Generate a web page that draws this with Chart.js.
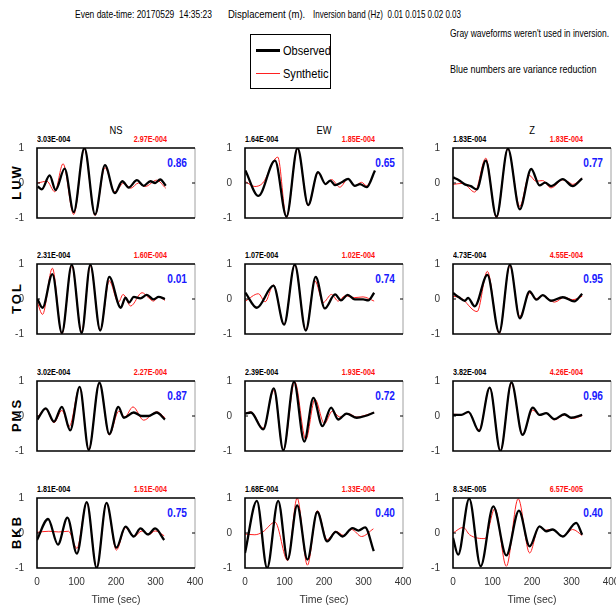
<!DOCTYPE html>
<html>
<head>
<meta charset="utf-8">
<script src="https://cdn.jsdelivr.net/npm/chart.js@4/dist/chart.umd.min.js"></script>
<style>
  body { margin: 0; width: 616px; height: 612px; overflow: hidden; background: #fff; position: relative;
         font-family: 'Liberation Sans', Arial, sans-serif; }
  .t { position: absolute; white-space: pre; line-height: 1; transform-origin: 0 50%; }
  canvas { position: absolute; }
</style>
</head>
<body>
<div class="t fit" data-w="137" style="left:75px;top:9px;font-size:11px;">Even date-time: 20170529  14:35:23</div>
<div class="t fit" data-w="77" style="left:228px;top:9px;font-size:11px;">Displacement (m).</div>
<div class="t fit" data-w="148" style="left:313px;top:9px;font-size:11px;">Inversion band (Hz)  0.01 0.015 0.02 0.03</div>
<div class="t fit" data-w="159" style="left:450px;top:29px;font-size:10px;">Gray waveforms weren't used in inversion.</div>
<div class="t fit" data-w="146" style="left:450px;top:65px;font-size:10px;">Blue numbers are variance reduction</div>
<div style="position:absolute;left:250px;top:34px;width:79px;height:53px;border:1px solid #000;"></div>
<div style="position:absolute;left:256px;top:49px;width:24px;height:3px;background:#000;"></div>
<div class="t" style="left:283px;top:44px;font-size:13px;transform:scaleX(0.85);">Observed</div>
<div style="position:absolute;left:256px;top:73px;width:24px;height:1px;background:#ff2020;"></div>
<div class="t" style="left:283px;top:67px;font-size:13px;transform:scaleX(0.85);">Synthetic</div>
<script>
// station / component layout
const stations = ['LUW', 'TOL', 'PMS', 'BKB'];
const components = ['NS', 'EW', 'Z'];

// amplitude labels (observed, synthetic) and variance reduction
const obsAmp = [
  ['3.03E-004', '1.64E-004', '1.83E-004'],
  ['2.31E-004', '1.07E-004', '4.73E-004'],
  ['3.02E-004', '2.39E-004', '3.82E-004'],
  ['1.81E-004', '1.68E-004', '8.34E-005']
];
const synAmp = [
  ['2.97E-004', '1.85E-004', '1.83E-004'],
  ['1.60E-004', '1.02E-004', '4.55E-004'],
  ['2.27E-004', '1.93E-004', '4.26E-004'],
  ['1.51E-004', '1.33E-004', '6.57E-005']
];
const varRed = [
  ['0.86', '0.65', '0.77'],
  ['0.01', '0.74', '0.95'],
  ['0.87', '0.72', '0.96'],
  ['0.75', '0.40', '0.40']
];

const xTicks = [0, 100, 200, 300, 400];
const yTicks = [-1, 0, 1];

// normalized waveforms, time (s) and amplitude
const luwNsObsT = [2, 12, 32, 47, 70, 93, 120, 147, 172, 197, 216, 232, 253, 270, 287, 299, 312, 326];
const luwNsObsY = [-0.1, -0.18, 0.22, -0.2, 0.41, -0.83, 1.0, -0.9, 0.51, -0.29, 0.05, -0.13, 0.08, -0.08, 0.05, 0.0, 0.1, -0.08];
const luwNsSynT = [2, 25, 45, 66, 93, 120, 147, 172, 197, 220, 237, 257, 274, 303, 326];
const luwNsSynY = [0.0, 0.05, -0.25, 0.55, -0.9, 0.98, -0.93, 0.44, -0.25, 0.0, -0.15, 0.0, -0.1, 0.08, -0.15];

const luwEwObsT = [1, 34, 76, 105, 133, 160, 185, 204, 216, 228, 245, 261, 278, 291, 308, 329];
const luwEwObsY = [0.36, -0.37, 0.64, -0.96, 1.0, -0.63, 0.31, -0.03, 0.07, -0.06, 0.02, 0.12, -0.08, -0.03, -0.12, 0.36];
const luwEwSynT = [1, 25, 45, 83, 105, 133, 160, 185, 205, 219, 240, 261, 278, 295, 308, 321];
const luwEwSynY = [0.04, -0.1, 0.0, 0.74, -0.99, 0.98, -0.65, 0.29, -0.03, 0.1, -0.12, 0.12, -0.08, 0.02, -0.08, 0.12];

const luwZObsT = [0, 15, 30, 45, 60, 83, 110, 139, 169, 198, 219, 233, 248, 278, 303, 327];
const luwZObsY = [0.16, 0.08, -0.04, -0.09, -0.18, 0.64, -0.96, 0.98, -0.75, 0.4, -0.07, 0.01, -0.09, 0.11, -0.09, 0.13];
const luwZSynT = [0, 25, 55, 83, 110, 139, 169, 193, 210, 227, 248, 278, 295, 303, 327];
const luwZSynY = [-0.04, -0.01, -0.26, 0.71, -1.0, 0.98, -0.67, 0.22, 0.05, 0.07, -0.14, 0.09, 0.01, -0.04, 0.14];

const tolNsObsT = [1, 14, 39, 63, 88, 113, 135, 160, 183, 212, 224, 233, 245, 262, 278, 295, 308, 324];
const tolNsObsY = [0.0, -0.25, 0.71, -0.97, 0.98, -0.97, 0.98, -0.9, 0.63, -0.25, 0.04, -0.1, 0.06, 0.02, 0.12, -0.01, 0.06, 0.0];
const tolNsSynT = [1, 14, 39, 63, 88, 113, 135, 160, 183, 206, 218, 237, 266, 282, 295, 308, 324];
const tolNsSynY = [-0.1, -0.44, 0.88, -1.0, 0.95, -0.94, 0.95, -0.9, 0.52, -0.1, 0.13, -0.2, 0.18, 0.04, -0.06, 0.06, -0.04];

const tolEwObsT = [1, 30, 72, 99, 126, 154, 179, 202, 228, 243, 260, 278, 299, 312, 327];
const tolEwObsY = [0.18, -0.25, 0.38, -0.73, 0.98, -0.9, 0.63, -0.27, 0.13, -0.04, 0.12, -0.01, -0.01, -0.04, 0.18];
const tolEwSynT = [1, 34, 51, 72, 99, 126, 154, 177, 198, 219, 236, 253, 278, 299, 327];
const tolEwSynY = [-0.06, 0.15, -0.08, 0.4, -0.73, 0.98, -0.9, 0.52, -0.1, 0.13, -0.06, 0.09, 0.04, 0.06, -0.06];

const tolZObsT = [0, 15, 30, 38, 55, 87, 117, 144, 169, 194, 211, 227, 248, 278, 307, 327];
const tolZObsY = [0.17, 0.05, -0.05, 0.03, -0.21, 0.69, -0.96, 0.98, -0.55, 0.22, -0.02, 0.11, -0.05, 0.05, -0.07, 0.15];
const tolZSynT = [0, 20, 61, 87, 117, 144, 169, 194, 211, 227, 257, 282, 303, 327];
const tolZSynY = [0.08, 0.03, -0.36, 0.79, -0.99, 0.95, -0.5, 0.17, 0.01, 0.1, -0.09, 0.05, -0.02, 0.08];

const pmsNsObsT = [1, 22, 43, 63, 84, 108, 131, 158, 183, 206, 220, 245, 265, 282, 303, 324];
const pmsNsObsY = [-0.1, 0.22, -0.16, 0.26, -0.41, 0.83, -0.97, 0.95, -0.52, 0.26, -0.05, 0.1, 0.0, 0.0, 0.1, -0.1];
const pmsNsSynT = [1, 22, 43, 63, 82, 108, 131, 158, 183, 207, 222, 243, 270, 303, 324];
const pmsNsSynY = [-0.03, 0.2, -0.19, 0.16, -0.29, 0.83, -0.97, 0.95, -0.54, 0.14, -0.03, 0.26, -0.12, 0.12, -0.05];

const pmsEwObsT = [1, 15, 46, 73, 97, 124, 150, 173, 196, 218, 236, 257, 283, 304, 327];
const pmsEwObsY = [0.07, 0.1, -0.38, 0.79, -0.98, 0.98, -0.73, 0.52, -0.29, 0.24, -0.1, 0.07, -0.05, 0.0, 0.1];
const pmsEwSynT = [1, 15, 46, 73, 97, 126, 154, 177, 201, 221, 240, 261, 283, 304, 327];
const pmsEwSynY = [0.07, 0.12, -0.35, 0.73, -0.98, 0.98, -0.67, 0.48, -0.22, 0.14, -0.03, 0.07, -0.03, 0.02, 0.1];

const pmsZObsT = [0, 21, 39, 66, 93, 120, 148, 176, 202, 219, 236, 257, 282, 299, 327];
const pmsZObsY = [0.03, 0.03, 0.12, -0.43, 0.81, -1.0, 0.96, -0.54, 0.24, 0.03, 0.08, -0.09, 0.05, -0.05, 0.03];
const pmsZSynT = [0, 21, 39, 66, 93, 120, 148, 176, 202, 219, 236, 257, 282, 303, 327];
const pmsZSynY = [0.05, 0.04, 0.1, -0.4, 0.81, -1.0, 0.93, -0.52, 0.17, 0.03, 0.08, -0.11, 0.03, -0.07, 0.01];

const bkbNsObsT = [0, 28, 53, 77, 101, 126, 151, 176, 201, 224, 245, 262, 281, 299, 322];
const bkbNsObsY = [-0.2, 0.4, -0.33, 0.44, -0.59, 0.88, -1.0, 0.86, -0.42, 0.18, -0.1, 0.13, -0.04, 0.13, -0.2];
const bkbNsSynT = [0, 30, 55, 80, 101, 126, 151, 176, 201, 224, 245, 266, 283, 299, 322];
const bkbNsSynY = [0.02, 0.05, 0.03, 0.05, -0.44, 0.88, -1.0, 0.86, -0.49, 0.15, -0.1, 0.06, -0.05, 0.06, -0.08];

const bkbEwObsT = [0, 30, 56, 84, 108, 132, 158, 183, 208, 230, 247, 272, 287, 304, 326];
const bkbEwObsY = [-0.57, 0.92, -1.0, 0.92, -0.76, 0.79, -0.76, 0.6, -0.24, 0.03, -0.1, 0.14, 0.07, 0.16, -0.52];
const bkbEwSynT = [0, 25, 45, 76, 108, 132, 158, 183, 208, 230, 250, 270, 295, 325];
const bkbEwSynY = [-0.03, -0.05, 0.03, 0.31, -0.79, 1.0, -0.92, 0.64, -0.19, 0.05, -0.07, 0.1, -0.1, 0.12];

const bkbZObsT = [0, 13, 41, 70, 102, 135, 167, 194, 219, 236, 252, 278, 312, 327];
const bkbZObsY = [-0.14, -0.62, 0.98, -0.95, 0.76, -0.64, 0.64, -0.38, 0.19, 0.05, 0.1, -0.1, 0.29, -0.05];
const bkbZSynT = [0, 26, 42, 81, 106, 135, 165, 194, 218, 234, 252, 278, 303, 327];
const bkbZSynY = [0.0, 0.16, -0.05, -0.16, 0.7, -0.95, 0.98, -0.57, 0.19, 0.08, 0.1, -0.1, 0.1, -0.07];

const waveforms = [
  [[luwNsObsT, luwNsObsY, luwNsSynT, luwNsSynY], [luwEwObsT, luwEwObsY, luwEwSynT, luwEwSynY], [luwZObsT, luwZObsY, luwZSynT, luwZSynY]],
  [[tolNsObsT, tolNsObsY, tolNsSynT, tolNsSynY], [tolEwObsT, tolEwObsY, tolEwSynT, tolEwSynY], [tolZObsT, tolZObsY, tolZSynT, tolZSynY]],
  [[pmsNsObsT, pmsNsObsY, pmsNsSynT, pmsNsSynY], [pmsEwObsT, pmsEwObsY, pmsEwSynT, pmsEwSynY], [pmsZObsT, pmsZObsY, pmsZSynT, pmsZSynY]],
  [[bkbNsObsT, bkbNsObsY, bkbNsSynT, bkbNsSynY], [bkbEwObsT, bkbEwObsY, bkbEwSynT, bkbEwSynY], [bkbZObsT, bkbZObsY, bkbZSynT, bkbZSynY]]
];

const FONT = "'Liberation Sans', Arial, sans-serif";
const colLeft = [37, 245, 453];
const rowTop = [148, 264, 381, 498];
const boxW = 158, boxH = 70;
const padL = 26, padR = 10, padT = 6;

// squeeze header texts to the width they take in the original
document.querySelectorAll('.fit').forEach(el => {
  el.style.transform = `scaleX(${Number(el.dataset.w) / el.offsetWidth})`;
});

function addText(txt, css) {
  const d = document.createElement('div');
  d.className = 't';
  d.textContent = txt;
  d.style.cssText += css;
  document.body.appendChild(d);
  return d;
}

function toPoints(t, y) {
  return t.map((x, i) => ({ x: x, y: y[i] }));
}

// frame drawn like a matlab axes box
const boxPlugin = {
  id: 'box',
  afterDraw(chart) {
    const { ctx, chartArea: a } = chart;
    const ys = chart.scales.y;
    ctx.save();
    ctx.strokeStyle = '#a0a0a0';
    ctx.lineWidth = 1;
    ctx.beginPath();
    ctx.moveTo(a.right, a.top);
    ctx.lineTo(a.right, a.bottom);
    ctx.stroke();
    ctx.strokeStyle = '#000';
    ctx.lineWidth = 1.6;
    ctx.beginPath();
    ctx.moveTo(a.right, a.top);
    ctx.lineTo(a.left, a.top);
    ctx.lineTo(a.left, a.bottom);
    ctx.lineTo(a.right, a.bottom);
    ctx.stroke();
    // small inward ticks at zero
    ctx.lineWidth = 1;
    const y0 = ys.getPixelForValue(0);
    ctx.beginPath();
    ctx.moveTo(a.left, y0); ctx.lineTo(a.left + 3, y0);
    ctx.moveTo(a.right, y0); ctx.lineTo(a.right - 3, y0);
    ctx.stroke();
    ctx.restore();
  }
};

stations.forEach((st, r) => {
  const T = rowTop[r];
  const last = r === stations.length - 1;
  addText(st, `left:16px;top:${T + boxH / 2}px;font-size:13px;font-weight:bold;letter-spacing:2px;padding-left:2px;transform-origin:50% 50%;transform:translate(-50%,-50%) rotate(-90deg);`);

  components.forEach((comp, c) => {
    const L = colLeft[c];
    const [ot, oy, stt, sy] = waveforms[r][c];

    if (r === 0) {
      addText(comp, `left:${L + boxW / 2}px;top:${T - 23}px;font-size:11px;transform-origin:50% 50%;transform:translateX(-50%) scaleX(0.85);`);
    }
    addText(obsAmp[r][c], `left:${L}px;top:${T - 13}px;font-size:9px;font-weight:bold;color:#000;transform:scaleX(0.8);`);
    addText(synAmp[r][c], `left:${L + 70}px;top:${T - 13}px;width:60px;text-align:right;font-size:9px;font-weight:bold;color:#ff1010;transform-origin:100% 50%;transform:scaleX(0.8);`);
    addText(varRed[r][c], `left:${L + 100}px;top:${T + 8}px;width:50px;text-align:right;font-size:13px;font-weight:bold;color:#1a1aff;transform-origin:100% 50%;transform:scaleX(0.78);`);

    const cv = document.createElement('canvas');
    const h = padT + boxH + (last ? 38 : 6);
    cv.width = padL + boxW + padR;
    cv.height = h;
    cv.style.left = (L - padL) + 'px';
    cv.style.top = (T - padT) + 'px';
    document.body.appendChild(cv);

    new Chart(cv.getContext('2d'), {
      type: 'line',
      data: {
        datasets: [
          {
            label: 'Observed',
            data: toPoints(ot, oy),
            borderColor: '#000',
            borderWidth: 2.3,
            pointRadius: 0,
            cubicInterpolationMode: 'monotone',
            fill: false
          },
          {
            label: 'Synthetic',
            data: toPoints(stt, sy),
            borderColor: '#ff2020',
            borderWidth: 1,
            pointRadius: 0,
            cubicInterpolationMode: 'monotone',
            fill: false
          }
        ]
      },
      options: {
        responsive: false,
        animation: false,
        events: [],
        layout: { padding: { left: 0, right: padR, top: padT, bottom: last ? 0 : 6 } },
        plugins: { legend: { display: false }, tooltip: { enabled: false } },
        scales: {
          x: {
            type: 'linear',
            min: 0,
            max: 400,
            display: last,
            grid: { display: false },
            border: { display: false },
            afterBuildTicks: s => { s.ticks = xTicks.map(v => ({ value: v })); },
            ticks: { color: '#333', font: { size: 10, family: FONT }, padding: 0, maxRotation: 0 },
            title: { display: true, text: 'Time (sec)', color: '#333', font: { size: 10.5, family: FONT }, padding: { top: 1, bottom: 0 } },
            afterFit: s => {
              if (last) { s.height = 38; }
              s.paddingLeft = 0; s.paddingRight = 0;
            }
          },
          y: {
            min: -1,
            max: 1,
            grid: { display: false },
            border: { display: false },
            afterBuildTicks: s => { s.ticks = yTicks.map(v => ({ value: v })); },
            ticks: { color: '#333', font: { size: 10, family: FONT }, padding: 5 },
            afterFit: s => { s.width = padL; s.paddingTop = 0; s.paddingBottom = 0; }
          }
        }
      },
      plugins: [boxPlugin]
    });
  });
});
</script>
</body>
</html>
